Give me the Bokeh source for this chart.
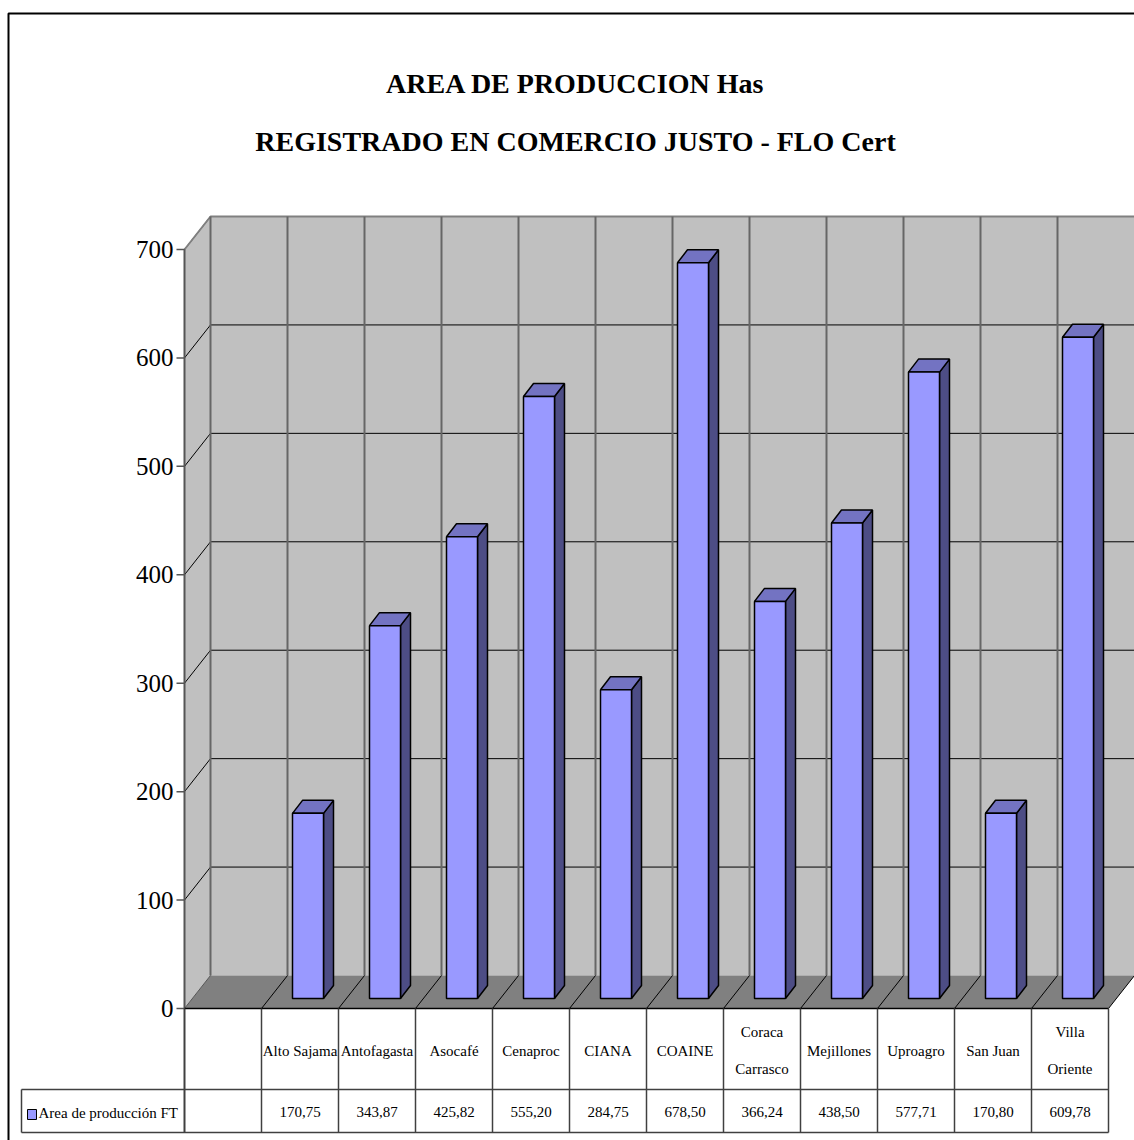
import numpy as np
from bokeh.plotting import figure
from bokeh.models import Range1d
from bokeh.core.properties import value
from bokeh.embed import file_html
from bokeh.resources import INLINE

# ---------------- data ----------------
categories = ["Alto Sajama", "Antofagasta", "Asocafé", "Cenaproc", "CIANA", "COAINE",
              "Coraca\nCarrasco", "Mejillones", "Uproagro", "San Juan", "Villa\nOriente"]
values = [170.75, 343.87, 425.82, 555.20, 284.75, 678.50, 366.24, 438.50, 577.71, 170.80, 609.78]
y_ticks = [0, 100, 200, 300, 400, 500, 600, 700]
series_name = "Area de producción FT"
title_lines = ["AREA DE PRODUCCION Has", "REGISTRADO EN COMERCIO JUSTO - FLO Cert"]

# ---------------- geometry (pixels -> data) ----------------
W, H = 1134, 1140
AX_PX, ZERO_PY = 184.0, 1008.0
PXX = 77.0                  # px per category slot
YMAX = 700.0
PXY = 759.0 / YMAX          # px per value unit


def X(px):
    return (px - AX_PX) / PXX


def Y(py):
    return (ZERO_PY - py) / PXY


def hx(dpx):
    return dpx / PXX


def vy(dpx):
    return dpx / PXY


WDX, WDY = hx(26), vy(33)           # wall depth
BOX, BOY = hx(8), vy(10)            # bar offset into depth
BDX, BDY = hx(10), vy(13)           # bar depth
BW = hx(31)                         # bar width
NSLOT = len(categories) + 1         # first slot of the table is empty

FONT = value("Liberation Serif")

p = figure(width=W, height=H, x_range=Range1d(X(0), X(W)), y_range=Range1d(Y(H), Y(0)),
           output_backend="svg", toolbar_location=None, min_border=0,
           x_axis_location=None, y_axis_location=None)
p.grid.grid_line_color = None
p.outline_line_color = None
p.background_fill_color = "white"
p.border_fill_color = "white"

# ---------------- walls ----------------
p.patch([WDX, NSLOT + WDX, NSLOT + WDX, WDX], [WDY, WDY, YMAX + WDY, YMAX + WDY],
        fill_color="#c0c0c0", line_color=None)
p.patch([0, WDX, WDX, 0], [0, WDY, YMAX + WDY, YMAX], fill_color="#c0c0c0", line_color=None)
p.patch([0, NSLOT, NSLOT + WDX, WDX], [0, 0, WDY, WDY], fill_color="#808080", line_color=None)

# back wall horizontal gridlines + left wall diagonals
for v in y_ticks[1:]:
    p.line([WDX, NSLOT + WDX], [v + WDY, v + WDY], line_color="#000000", line_width=1)
    p.line([0, WDX], [v, v + WDY], line_color="#000000", line_width=1)
# top edges
p.line([0, WDX, NSLOT + WDX], [YMAX, YMAX + WDY, YMAX + WDY], line_color="#808080", line_width=2)
# back wall verticals
for k in range(0, NSLOT):
    p.line([k + WDX, k + WDX], [WDY, YMAX + WDY], line_color="#666666", line_width=2)
# floor diagonals
for k in range(1, NSLOT + 1):
    p.line([k, k + WDX], [0, WDY], line_color="#000000", line_width=1)
p.line([0, WDX], [0, WDY], line_color="#555555", line_width=1)

# ---------------- bars (3D) ----------------
vals = np.array(values)
slots = np.arange(1, NSLOT)
left = slots + 0.5 - BW / 2 + BOX
right = left + BW
bot = np.full_like(vals, BOY)
top = BOY + vals

front_xs = [[l, r, r, l] for l, r in zip(left, right)]
front_ys = [[b, b, t, t] for b, t in zip(bot, top)]
side_xs = [[r, r + BDX, r + BDX, r] for r in right]
side_ys = [[b, b + BDY, t + BDY, t] for b, t in zip(bot, top)]
top_xs = [[l, r, r + BDX, l + BDX] for l, r in zip(left, right)]
top_ys = [[t, t, t + BDY, t + BDY] for t in top]

p.patches(side_xs, side_ys, fill_color="#4d4d85", line_color="#000000", line_width=1.5)
p.patches(top_xs, top_ys, fill_color="#7373c2", line_color="#000000", line_width=1.5)
p.patches(front_xs, front_ys, fill_color="#9999ff", line_color="#000000", line_width=1.5)

# ---------------- value axis ----------------
p.line([0, 0], [0, YMAX], line_color="#555555", line_width=2)
for v in y_ticks:
    p.line([hx(-8), 0], [v, v], line_color="#555555", line_width=1.5)
p.text(x=[hx(-11)] * len(y_ticks), y=y_ticks, text=[str(t) for t in y_ticks],
       text_font=FONT, text_font_size="25px", text_align="right", text_baseline="middle",
       text_color="#000000")

# ---------------- data table ----------------
LEG_X = X(21)
ROW1 = Y(1089)
ROW2 = Y(1132)
TCOL = "#404040"
p.line([0, NSLOT], [0, 0], line_color="#000000", line_width=1.5)
p.line([LEG_X, NSLOT], [ROW1, ROW1], line_color=TCOL, line_width=1.5)
p.line([LEG_X, NSLOT], [ROW2, ROW2], line_color=TCOL, line_width=1.5)
p.line([LEG_X, LEG_X], [ROW1, ROW2], line_color=TCOL, line_width=1.5)
p.line([0, 0], [0, ROW2], line_color=TCOL, line_width=2)
for k in range(1, NSLOT + 1):
    p.line([k, k], [0, ROW2], line_color=TCOL, line_width=1.5)

p.text(x=list(slots + 0.5), y=[Y(1050)] * len(categories), text=categories,
       text_font=FONT, text_font_size="15px", text_align="center", text_baseline="middle",
       text_line_height=2.3, text_color="#000000")
p.text(x=list(slots + 0.5), y=[Y(1111)] * len(values),
       text=[f"{v:.2f}".replace(".", ",") for v in values],
       text_font=FONT, text_font_size="15px", text_align="center", text_baseline="middle",
       text_color="#000000")

# legend key in table
p.quad(left=[X(27)], right=[X(36)], bottom=[Y(1119)], top=[Y(1109)],
       fill_color="#9999ff", line_color="#000000", line_width=1)
p.text(x=[X(38)], y=[Y(1112)], text=[series_name], text_font=FONT, text_font_size="15px",
       text_align="left", text_baseline="middle", text_color="#000000")

# ---------------- title ----------------
p.text(x=[X(575)] * 2, y=[Y(83), Y(141)], text=title_lines, text_font=FONT,
       text_font_size="28px", text_font_style="bold", text_align="center",
       text_baseline="middle", text_color="#000000")

# ---------------- chart border ----------------
p.line([X(8), X(8), X(W)], [Y(H), Y(13), Y(13)], line_color="#000000", line_width=2)

open("out.html", "w").write(file_html(p, INLINE))
